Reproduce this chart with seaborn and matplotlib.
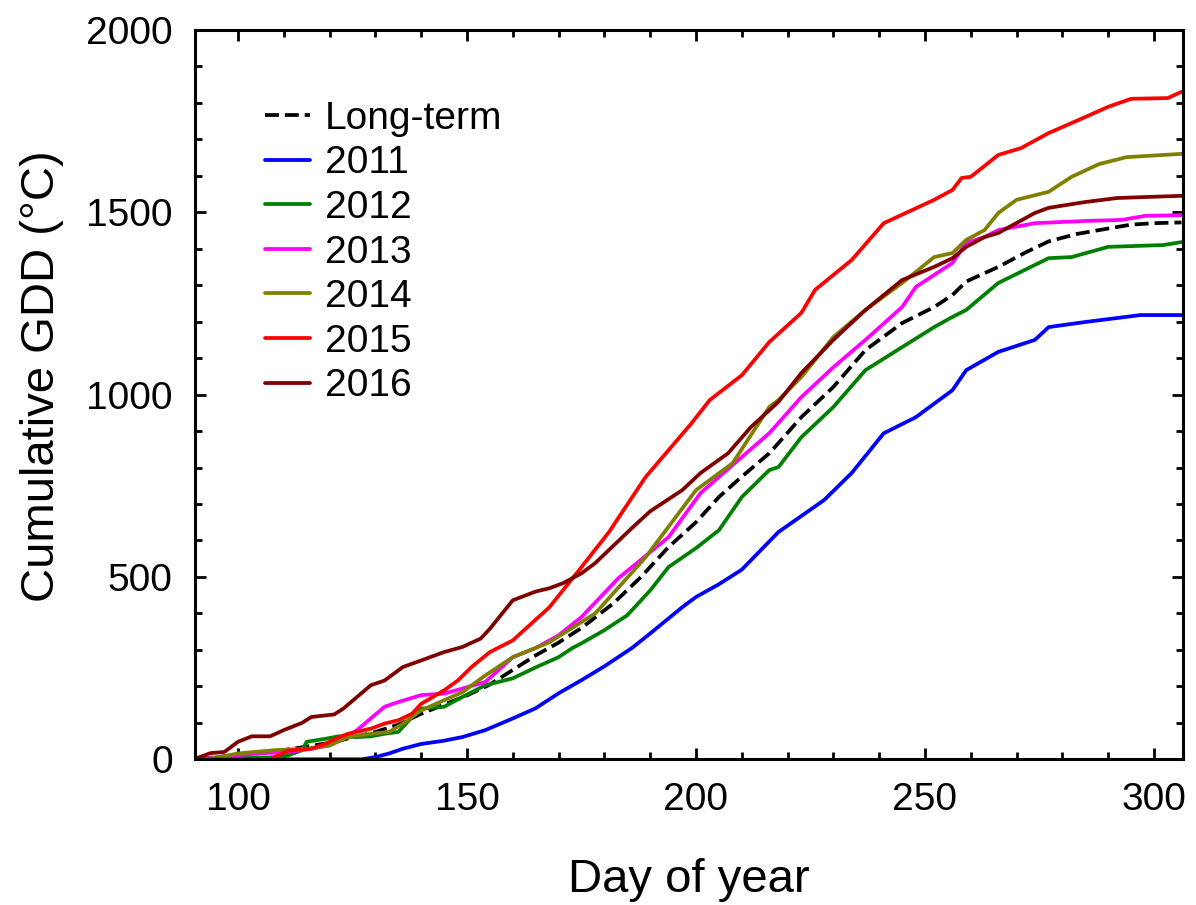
import matplotlib
matplotlib.use("Agg")
import matplotlib.pyplot as plt
from matplotlib.ticker import MultipleLocator
import seaborn as sns
import pandas as pd
import numpy as np

# values (day of year, cumulative GDD)
lt_day = [91, 100, 110, 120, 125, 130, 135, 140, 145, 150, 155, 160, 165, 170, 175, 182, 188, 194, 200,
          205, 210, 216, 218, 223, 230, 237, 245, 252, 256, 259, 266, 272, 277, 283, 288, 295, 300, 306]
lt_gdd = [0, 10, 25, 45, 60, 75, 95, 125, 150, 175, 205, 245, 285, 320, 360, 428, 500, 582, 650,
          719, 775, 839, 867, 938, 1021, 1122, 1196, 1240, 1273, 1310, 1350, 1390, 1420, 1440, 1451, 1466, 1470, 1472]

d2011 = [91, 127, 130, 133, 136, 140, 145, 149, 154, 160, 165, 170, 175, 180, 186, 190, 197, 200, 205,
         210, 218, 228, 234, 241, 248, 256, 259, 266, 274, 277, 285, 292, 297, 306]
g2011 = [0, 0, 6, 16, 29, 42, 51, 61, 80, 112, 140, 181, 217, 255, 305, 345, 417, 445, 480,
         520, 623, 711, 785, 894, 938, 1012, 1067, 1117, 1150, 1185, 1199, 1210, 1218, 1218]

d2012 = [91, 100, 107, 111, 114, 115, 119, 122, 126, 129, 132, 135, 138, 140, 145, 149, 154, 160, 165,
         170, 173, 175, 180, 185, 190, 194, 200, 205, 210, 216, 218, 223, 230, 237, 245, 252, 256, 259,
         266, 277, 282, 290, 302, 306]
g2012 = [0, 5, 5, 11, 25, 48, 56, 63, 61, 63, 70, 75, 116, 139, 144, 171, 203, 222, 252,
         280, 305, 318, 354, 395, 463, 527, 579, 628, 719, 793, 801, 883, 966, 1067, 1130, 1185, 1213, 1232,
         1306, 1374, 1377, 1405, 1410, 1418]

d2013 = [91, 97, 104, 111, 116, 120, 123, 126, 129, 132, 135, 140, 145, 149, 154, 160, 165, 170, 175,
         183, 194, 201, 208, 216, 223, 230, 237, 245, 248, 256, 259, 263, 266, 274, 285, 293, 298, 306]
g2013 = [0, 8, 16, 20, 29, 38, 56, 80, 112, 144, 157, 176, 180, 194, 212, 280, 305, 340, 390,
         496, 609, 730, 807, 894, 993, 1075, 1150, 1240, 1295, 1361, 1416, 1432, 1451, 1470, 1476, 1479, 1490, 1492]

d2014 = [91, 94, 100, 108, 115, 120, 124, 129, 133, 136, 140, 145, 149, 154, 160, 168, 178, 189, 200,
         208, 216, 218, 223, 230, 237, 245, 252, 256, 259, 263, 266, 270, 277, 282, 288, 294, 306]
g2014 = [0, 2, 16, 25, 29, 38, 61, 70, 75, 98, 134, 162, 184, 230, 280, 321, 400, 554, 738,
         812, 966, 985, 1048, 1158, 1232, 1306, 1377, 1388, 1424, 1451, 1498, 1534, 1556, 1597, 1632, 1651, 1660]

d2015 = [91, 107, 108, 111, 116, 119, 122, 124, 129, 132, 135, 138, 140, 145, 148, 151, 155, 160, 168,
         175, 181, 189, 199, 203, 210, 216, 223, 226, 234, 241, 252, 256, 258, 260, 266, 271, 277, 285,
         290, 295, 303, 306]
g2015 = [0, 0, 6, 24, 29, 42, 60, 70, 84, 98, 107, 125, 152, 189, 216, 253, 294, 326, 417,
         527, 623, 774, 921, 985, 1053, 1144, 1224, 1287, 1369, 1470, 1534, 1561, 1594, 1597, 1657, 1676, 1717, 1761,
         1789, 1811, 1813, 1830]

d2016 = [91, 94, 97, 100, 103, 107, 110, 114, 116, 121, 123, 126, 129, 132, 136, 140, 145, 149, 153,
         155, 160, 165, 168, 171, 175, 178, 186, 190, 197, 201, 207, 212, 218, 223, 230, 237, 245, 252,
         256, 259, 263, 266, 274, 277, 285, 292, 306]
g2016 = [3, 17, 20, 48, 63, 63, 80, 100, 116, 123, 139, 171, 203, 216, 253, 271, 294, 308, 331,
         358, 436, 460, 469, 483, 510, 538, 634, 680, 738, 785, 839, 911, 980, 1059, 1150, 1232, 1314, 1350,
         1374, 1405, 1432, 1443, 1498, 1512, 1528, 1539, 1545]

names = ["Long-term", "2011", "2012", "2013", "2014", "2015", "2016"]
days = [lt_day, d2011, d2012, d2013, d2014, d2015, d2016]
gdds = [lt_gdd, g2011, g2012, g2013, g2014, g2015, g2016]
colors = ["black", "#0000ff", "#008000", "#ff00ff", "#808000", "#ff0000", "#800000"]

sns.set_theme(style="ticks")
plt.rcParams['font.family'] = ['Liberation Sans', 'DejaVu Sans']
plt.rcParams['text.color'] = 'black'
plt.rcParams['axes.labelcolor'] = 'black'

fig = plt.figure(figsize=(11.96, 9.05), dpi=100)
ax = fig.add_axes([0.163, 0.161, 0.826, 0.806])

for name, d, g, c in zip(names, days, gdds, colors):
    df = pd.DataFrame({'day': d, 'gdd': g})
    ls = '--' if name == "Long-term" else '-'
    sns.lineplot(data=df, x='day', y='gdd', color=c, linestyle=ls, linewidth=2.7,
                 label=name, ax=ax, sort=False)

ax.set_xlim(90.6, 306.3)
ax.set_ylim(0, 2000)
ax.xaxis.set_major_locator(MultipleLocator(50))
ax.xaxis.set_minor_locator(MultipleLocator(10))
ax.yaxis.set_major_locator(MultipleLocator(500))
ax.yaxis.set_minor_locator(MultipleLocator(100))
ax.tick_params(which='both', direction='in', top=True, right=True, width=2, colors='black',
               labelcolor='black')
ax.tick_params(which='major', length=8, labelsize=28, pad=16)
ax.tick_params(which='minor', length=5)
for s in ax.spines.values():
    s.set_linewidth(2.2)
    s.set_color('black')

ax.set_xlabel('Day of year', fontsize=34)
ax.set_ylabel('Cumulative GDD (°C)', fontsize=34)
ax.xaxis.set_label_coords(0.5, -0.135)
ax.yaxis.set_label_coords(-0.133, 0.525)

leg = ax.legend(loc='upper left', bbox_to_anchor=(0.055, 0.924), frameon=False, fontsize=28,
                handlelength=1.15, handletextpad=0.4, labelspacing=0.22, borderaxespad=0)
for h in leg.get_lines():
    h.set_linewidth(2.7)

fig.savefig('out.png', dpi=100)
